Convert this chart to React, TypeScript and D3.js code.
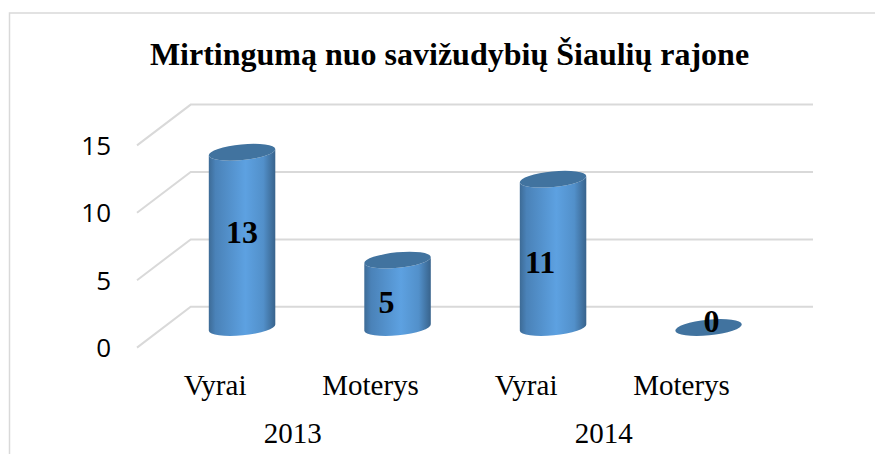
import React from "react";
import * as d3 from "d3";

const titleText = "Mirtingumą nuo savižudybių Šiaulių rajone";
const categories = ["2013-Vyrai", "2013-Moterys", "2014-Vyrai", "2014-Moterys"];
const categoryLabels = ["Vyrai", "Moterys", "Vyrai", "Moterys"];
const values = [13, 5, 11, 0];
const years = ["2013", "2014"];
const yearSpans = [["2013-Vyrai", "2013-Moterys"], ["2014-Vyrai", "2014-Moterys"]];
const yTicks = [0, 5, 10, 15];

const W = 875;
const H = 454;
const serif = "'Liberation Serif', 'Times New Roman', serif";
const sans = "'Open Sans', 'Noto Sans', sans-serif";

const labelShiftX = [0, -11, -13, 3];
const labelShiftY = [3, 19, 20, 4];

export default function App() {
  const x = d3.scaleBand<string>().domain(categories).range([164.3, 786.3]).padding(0);
  const y = d3.scaleLinear().domain([0, 15]).range([327.5, 125.3]);
  const gridY = d3.scaleLinear().domain([0, 15]).range([306.8, 104.6]);
  const depthX = 53.7;
  const depthY = 40.8;
  const gridRight = 813;
  const rx = 33.4;
  const ry = 7.8;
  const tilt = 5.5;
  const rad = (tilt * Math.PI) / 180;
  const dx = rx * Math.cos(rad);
  const dy = rx * Math.sin(rad);
  const left = 190.7;

  return (
    <div style={{ position: "fixed", left: 0, top: 0, width: W, height: H, background: "#fff" }}>
      <svg width={W} height={H} viewBox={`0 0 ${W} ${H}`} style={{ display: "block" }}>
        <defs>
          <linearGradient id="cyl" x1="0" x2="1" y1="0" y2="0">
            <stop offset="0" stopColor="#3d6b96" />
            <stop offset="0.1" stopColor="#4a82b8" />
            <stop offset="0.55" stopColor="#5da1e1" />
            <stop offset="0.82" stopColor="#5290ca" />
            <stop offset="1" stopColor="#38638c" />
          </linearGradient>
        </defs>
        <rect x={0} y={0} width={W} height={H} fill="#fff" />
        <path d={`M9.5 ${H} V13 H${W}`} fill="none" stroke="#d9d9d9" strokeWidth={1.5} />
        <text x={449.5} y={65} textAnchor="middle" fontFamily={serif} fontWeight="bold" fontSize={32} fill="#000">
          {titleText}
        </text>
        {yTicks.map((t) => (
          <path key={t} d={`M${left - depthX} ${gridY(t) + depthY} L${left} ${gridY(t)} H${gridRight}`} stroke="#d9d9d9" strokeWidth={2} fill="none" />
        ))}
        {yTicks.map((t) => (
          <text key={t} x={111} y={gridY(t) + depthY + 9.5} textAnchor="end" fontFamily={sans} fontSize={26} fill="#000">
            {t}
          </text>
        ))}
        {categories.map((c, i) => {
          const cx = x(c)! + x.bandwidth() / 2;
          const topY = y(values[i]);
          const baseY = y(0);
          const body = `M${cx - dx} ${topY + dy} L${cx - dx} ${baseY + dy} A${rx} ${ry} ${-tilt} 0 0 ${cx + dx} ${baseY - dy} L${cx + dx} ${topY - dy} A${rx} ${ry} ${-tilt} 0 1 ${cx - dx} ${topY + dy} Z`;
          return (
            <g key={c}>
              {values[i] > 0 && <path d={body} fill="url(#cyl)" />}
              <ellipse cx={cx} cy={topY} rx={rx} ry={ry} transform={`rotate(${-tilt} ${cx} ${topY})`} fill="#41739f" />
            </g>
          );
        })}
        {categories.map((c, i) => {
          const cx = x(c)! + x.bandwidth() / 2;
          return (
            <text key={c} x={cx + labelShiftX[i]} y={(y(values[i]) + y(0)) / 2 + labelShiftY[i]} textAnchor="middle" fontFamily={serif} fontWeight="bold" fontSize={32} fill="#000">
              {values[i]}
            </text>
          );
        })}
        {categories.map((c, i) => (
          <text key={c} x={x(c)! + x.bandwidth() / 2 - 27} y={395} textAnchor="middle" fontFamily={serif} fontSize={29} fill="#000">
            {categoryLabels[i]}
          </text>
        ))}
        {years.map((yr, i) => {
          const a = x(yearSpans[i][0])!;
          const b = x(yearSpans[i][1])! + x.bandwidth();
          return (
            <text key={yr} x={(a + b) / 2 - 27} y={443} textAnchor="middle" fontFamily={serif} fontSize={29} fill="#000">
              {yr}
            </text>
          );
        })}
      </svg>
    </div>
  );
}
